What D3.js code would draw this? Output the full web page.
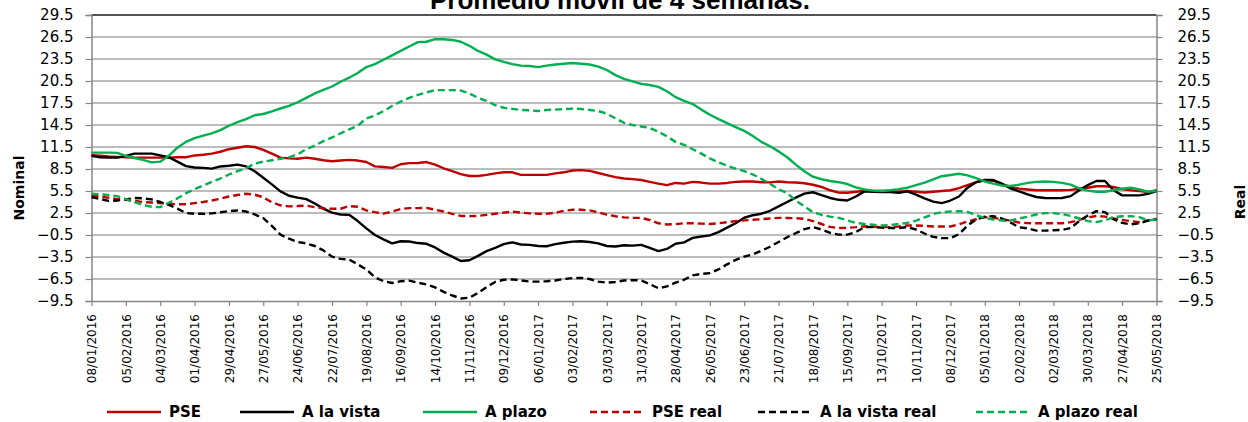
<!DOCTYPE html>
<html>
<head>
<meta charset="utf-8">
<script src="https://cdn.jsdelivr.net/npm/d3@7"></script>
<style>
  html, body { margin: 0; padding: 0; background: #fff; }
  svg { display: block; }
  .tick text { font-family: "DejaVu Sans", sans-serif; fill: #000; }
</style>
</head>
<body>
<svg id="chart"></svg>
<script>
// Weekly data, 4-week moving average (nominal and real rates)
var tickLabels = ["08/01/2016","05/02/2016","04/03/2016","01/04/2016","29/04/2016","27/05/2016",
    "24/06/2016","22/07/2016","19/08/2016","16/09/2016","14/10/2016","11/11/2016","09/12/2016",
    "06/01/2017","03/02/2017","03/03/2017","31/03/2017","28/04/2017","26/05/2017","23/06/2017",
    "21/07/2017","18/08/2017","15/09/2017","13/10/2017","10/11/2017","08/12/2017","05/01/2018",
    "02/02/2018","02/03/2018","30/03/2018","27/04/2018","25/05/2018"];

var yTicks = [-9.5, -6.5, -3.5, -0.5, 2.5, 5.5, 8.5, 11.5, 14.5, 17.5, 20.5, 23.5, 26.5, 29.5];

var pse = [10.37,10.3,10.2,10.15,10.1,10.05,10.05,10.05,10.05,10.05,10.1,10.1,10.35,10.45,10.6,10.85,
    11.2,11.4,11.6,11.5,11.1,10.6,10.05,9.95,9.9,10.05,9.9,9.7,9.55,9.65,9.75,9.65,
    9.45,8.86,8.77,8.65,9.15,9.3,9.32,9.45,9.1,8.6,8.2,7.8,7.55,7.55,7.7,7.9,
    8.05,8.05,7.7,7.7,7.7,7.7,7.9,8.05,8.3,8.35,8.25,7.95,7.67,7.4,7.2,
    7.12,7.0,6.75,6.5,6.3,6.6,6.5,6.75,6.65,6.5,6.5,6.6,6.75,6.8,6.8,6.7,
    6.68,6.8,6.7,6.65,6.55,6.35,6.05,5.6,5.28,5.26,5.4,5.5,5.5,5.5,5.5,
    5.4,5.5,5.4,5.3,5.4,5.5,5.6,5.9,6.3,6.7,6.95,6.9,6.45,6.05,5.82,5.7,
    5.6,5.6,5.6,5.6,5.65,5.8,5.95,6.15,6.15,6.05,5.75,5.6,5.5,5.35,5.6];

var aLaVista = [10.3,10.1,10.05,10.05,10.3,10.6,10.6,10.6,10.35,10.1,9.5,8.9,8.7,8.65,8.55,8.85,
    8.95,9.1,8.85,8.2,7.3,6.4,5.45,4.85,4.6,4.4,3.8,3.1,2.55,2.3,2.25,1.4,
    0.4,-0.5,-1.1,-1.65,-1.35,-1.38,-1.6,-1.7,-2.2,-2.9,-3.45,-4.05,-3.95,-3.35,-2.7,-2.25,
    -1.75,-1.5,-1.8,-1.85,-2.0,-2.03,-1.75,-1.55,-1.4,-1.35,-1.45,-1.65,-2.0,-2.07,-1.9,
    -1.95,-1.85,-2.25,-2.7,-2.4,-1.7,-1.5,-0.9,-0.7,-0.55,-0.1,0.5,1.1,1.85,2.2,2.4,
    2.8,3.4,4.0,4.6,5.15,5.33,4.95,4.55,4.3,4.2,4.75,5.45,5.4,5.35,5.35,
    5.25,5.44,5.0,4.5,4.05,3.85,4.2,4.75,5.95,6.7,7.0,7.0,6.5,5.85,5.45,5.04,
    4.68,4.55,4.53,4.55,4.8,5.6,6.3,6.86,6.86,5.6,4.9,4.9,4.9,5.1,5.5];

var aPlazo = [10.73,10.73,10.73,10.7,10.3,10.0,9.75,9.4,9.5,10.3,11.4,12.2,12.7,13.05,13.35,13.8,
    14.4,14.9,15.3,15.83,16.0,16.35,16.75,17.1,17.6,18.2,18.8,19.3,19.75,20.4,20.95,21.6,
    22.4,22.8,23.4,24.0,24.6,25.2,25.8,25.85,26.2,26.2,26.1,25.85,25.3,24.6,24.1,23.45,
    23.1,22.8,22.6,22.55,22.4,22.6,22.75,22.85,22.95,22.85,22.75,22.45,22.0,21.3,20.8,
    20.45,20.1,19.95,19.7,19.1,18.3,17.8,17.35,16.6,15.9,15.3,14.75,14.2,13.7,13.0,12.2,
    11.6,10.9,10.1,9.1,8.2,7.45,7.1,6.87,6.7,6.45,6.0,5.7,5.55,5.5,5.6,
    5.75,5.95,6.3,6.65,7.1,7.52,7.68,7.85,7.63,7.25,6.8,6.5,6.25,6.2,6.36,6.6,
    6.75,6.8,6.75,6.6,6.36,5.85,5.55,5.4,5.4,5.6,5.8,5.95,5.7,5.4,5.5];

var pseReal = [4.9,4.75,4.58,4.4,4.3,4.15,4.0,3.93,3.85,3.76,3.7,3.7,3.85,4.0,4.2,4.44,
    4.75,4.95,5.13,5.0,4.65,3.95,3.55,3.4,3.45,3.5,3.3,3.15,3.08,3.08,3.45,3.35,
    2.85,2.62,2.42,2.7,3.05,3.17,3.17,3.2,2.95,2.7,2.38,2.1,2.07,2.1,2.25,2.4,
    2.55,2.7,2.55,2.45,2.39,2.39,2.55,2.8,2.94,2.94,2.85,2.6,2.28,2.05,1.9,
    1.84,1.84,1.55,1.1,0.93,0.98,1.1,1.1,1.05,1.0,1.1,1.25,1.4,1.5,1.57,1.65,
    1.75,1.84,1.82,1.8,1.7,1.4,1.0,0.6,0.45,0.48,0.57,0.7,0.62,0.57,0.57,
    0.66,0.8,0.8,0.75,0.66,0.66,0.66,0.95,1.35,1.65,1.93,1.84,1.65,1.45,1.2,1.12,
    1.1,1.1,1.1,1.1,1.25,1.55,1.9,2.1,2.0,1.75,1.55,1.4,1.25,1.5,1.7];

var aLaVistaReal = [4.67,4.4,4.15,4.2,4.35,4.55,4.5,4.35,4.0,3.6,3.1,2.5,2.39,2.39,2.45,2.6,
    2.75,2.85,2.7,2.3,1.8,0.75,-0.45,-1.0,-1.45,-1.65,-2.0,-2.6,-3.45,-3.75,-3.85,-4.5,
    -5.2,-6.26,-6.8,-7.05,-6.8,-6.72,-7.0,-7.25,-7.65,-8.25,-8.75,-9.15,-9.05,-8.4,-7.6,-6.9,
    -6.6,-6.55,-6.7,-6.85,-6.86,-6.8,-6.7,-6.5,-6.38,-6.35,-6.5,-6.85,-7.0,-6.9,-6.7,
    -6.65,-6.7,-7.2,-7.76,-7.5,-7.0,-6.6,-6.0,-5.8,-5.7,-5.2,-4.5,-3.9,-3.45,-3.15,-2.65,
    -2.1,-1.45,-0.8,-0.25,0.3,0.57,0.25,-0.2,-0.45,-0.45,-0.1,0.57,0.57,0.5,0.45,
    0.45,0.57,0.25,-0.3,-0.75,-0.93,-0.93,-0.4,0.8,1.6,2.0,2.07,1.75,1.2,0.55,0.4,
    0.1,0.1,0.15,0.2,0.45,1.4,2.15,2.75,2.62,1.65,1.15,0.95,1.1,1.45,1.65];

var aPlazoReal = [5.13,5.05,4.95,4.8,4.4,4.0,3.6,3.35,3.3,3.9,4.5,5.2,5.75,6.25,6.75,7.2,
    7.75,8.2,8.6,9.23,9.5,9.7,9.9,10.1,10.5,11.2,11.7,12.3,12.8,13.35,13.9,14.4,
    15.4,15.8,16.4,17.1,17.7,18.2,18.6,18.95,19.25,19.25,19.25,19.2,18.8,18.2,17.8,17.2,
    16.85,16.7,16.55,16.5,16.4,16.55,16.6,16.65,16.74,16.68,16.55,16.4,16.05,15.4,14.8,
    14.5,14.3,14.1,13.6,12.95,12.2,11.8,11.2,10.6,9.95,9.4,8.95,8.55,8.2,7.75,7.15,
    6.5,5.75,5.2,4.2,3.4,2.6,2.25,2.0,1.84,1.5,1.15,1.0,0.89,0.8,0.85,
    1.0,1.16,1.45,1.9,2.35,2.62,2.7,2.73,2.65,2.2,1.82,1.6,1.48,1.48,1.75,2.0,
    2.3,2.48,2.48,2.35,2.1,1.75,1.4,1.25,1.5,1.95,2.05,2.07,1.93,1.5,1.6];

var seriesList = [
    {name: "PSE", values: pse, color: "#c00000", dash: null},
    {name: "A la vista", values: aLaVista, color: "#000000", dash: null},
    {name: "A plazo", values: aPlazo, color: "#00b050", dash: null},
    {name: "PSE real", values: pseReal, color: "#c00000", dash: "7,4"},
    {name: "A la vista real", values: aLaVistaReal, color: "#000000", dash: "7,4"},
    {name: "A plazo real", values: aPlazoReal, color: "#00b050", dash: "7,4"}
];

// weekly categories (every Friday from the first tick label)
var parseDay = d3.timeParse("%d/%m/%Y");
var fmtDay = d3.timeFormat("%d/%m/%Y");
var startDay = parseDay(tickLabels[0]);
var categories = pse.map(function(d, i) { return fmtDay(d3.timeDay.offset(startDay, 7 * i)); });

var W = 1248, H = 422;
var margin = {left: 91.5, right: 1156.5, top: 15, bottom: 301};

var svg = d3.select("#chart").attr("width", W).attr("height", H);

var x = d3.scalePoint().domain(categories).range([margin.left, margin.right]);
var y = d3.scaleLinear().domain([-9.5, 29.5]).range([margin.bottom, margin.top]);

// gridlines
svg.append("g").selectAll("line")
    .data(yTicks.slice(1))
    .enter().append("line")
    .attr("x1", margin.left).attr("x2", margin.right)
    .attr("y1", function(d) { return y(d); })
    .attr("y2", function(d) { return y(d); })
    .attr("stroke", function(d) { return d === 29.5 ? "#1a1a1a" : "#a6a6a6"; })
    .attr("stroke-width", 1.3);

// left axis
var leftAxis = svg.append("g")
    .attr("transform", "translate(" + margin.left + ",0)")
    .call(d3.axisLeft(y).tickValues(yTicks).tickFormat(d3.format(".1f")).tickSize(6).tickPadding(12));
// right axis
var rightAxis = svg.append("g")
    .attr("transform", "translate(" + margin.right + ",0)")
    .call(d3.axisRight(y).tickValues(yTicks).tickFormat(d3.format(".1f")).tickSize(6).tickPadding(15));
// bottom axis
var bottomAxis = svg.append("g")
    .attr("transform", "translate(0," + margin.bottom + ")")
    .call(d3.axisBottom(x).tickValues(tickLabels).tickSize(5).tickSizeOuter(0));

[leftAxis, rightAxis].forEach(function(g) {
    g.select(".domain").attr("stroke", "#868686").attr("stroke-width", 1.5);
    g.selectAll(".tick line").attr("stroke", "#868686").attr("stroke-width", 1.2);
    g.selectAll(".tick text").style("font-size", "15px");
});
bottomAxis.select(".domain").attr("stroke", "#868686").attr("stroke-width", 1.5);
bottomAxis.selectAll(".tick line").attr("stroke", "#868686").attr("stroke-width", 1.2);
bottomAxis.selectAll(".tick text")
    .style("font-size", "12px")
    .attr("text-anchor", "end")
    .attr("dy", "0.35em")
    .attr("transform", "translate(0,13) rotate(-90)")
    .attr("x", 0).attr("y", 0);

// lines
var line = d3.line()
    .x(function(d, i) { return x(categories[i]); })
    .y(function(d) { return y(d); });

svg.append("g").selectAll("path")
    .data(seriesList)
    .enter().append("path")
    .attr("d", function(s) { return line(s.values); })
    .attr("fill", "none")
    .attr("stroke", function(s) { return s.color; })
    .attr("stroke-width", 2.4)
    .attr("stroke-dasharray", function(s) { return s.dash; })
    .attr("stroke-linejoin", "round");

// title (cut off at top like the original)
svg.append("text")
    .attr("x", 620).attr("y", 9)
    .attr("text-anchor", "middle")
    .style("font-family", "Liberation Sans, Arial, sans-serif")
    .style("font-weight", "bold")
    .style("font-size", "26px")
    .text("Promedio móvil de 4 semanas.");

// axis titles
svg.append("text")
    .attr("transform", "translate(24,188) rotate(-90)")
    .attr("text-anchor", "middle")
    .style("font-family", "DejaVu Sans, sans-serif")
    .style("font-weight", "bold")
    .style("font-size", "14px")
    .text("Nominal");
svg.append("text")
    .attr("transform", "translate(1245,202) rotate(-90)")
    .attr("text-anchor", "middle")
    .style("font-family", "DejaVu Sans, sans-serif")
    .style("font-weight", "bold")
    .style("font-size", "14px")
    .text("Real");

// legend
var legendPos = [107, 240, 423, 590, 758, 976];
var legend = svg.append("g").selectAll("g")
    .data(seriesList)
    .enter().append("g")
    .attr("transform", function(s, i) { return "translate(" + legendPos[i] + ",412)"; });
legend.append("line")
    .attr("x1", 0).attr("x2", 54)
    .attr("stroke", function(s) { return s.color; })
    .attr("stroke-width", 2.4)
    .attr("stroke-dasharray", function(s) { return s.dash; });
legend.append("text")
    .attr("x", 62).attr("dy", "0.35em")
    .style("font-family", "DejaVu Sans, sans-serif")
    .style("font-weight", "bold")
    .style("font-size", "15px")
    .text(function(s) { return s.name; });
</script>
</body>
</html>
